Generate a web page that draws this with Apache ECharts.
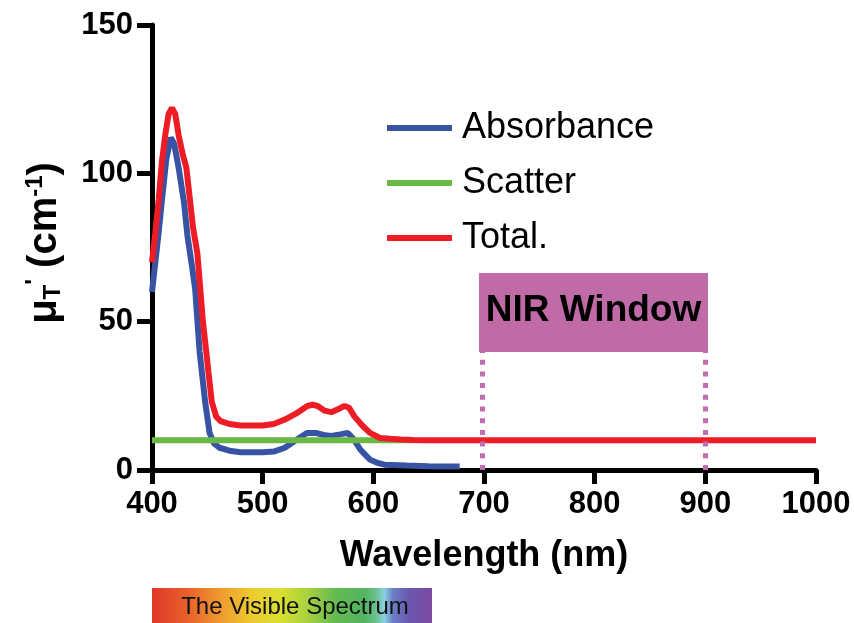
<!DOCTYPE html>
<html>
<head>
<meta charset="utf-8">
<script src="https://cdn.jsdelivr.net/npm/echarts@6/dist/echarts.min.js"></script>
<style>
html,body{margin:0;padding:0;background:#fff;}
#chart{width:854px;height:623px;}
</style>
</head>
<body>
<div id="chart"></div>
<script>
// ---- data ----
const seriesNames = ['Absorbance', 'Scatter', 'Total.'];
const xTicks = [400, 500, 600, 700, 800, 900, 1000];
const yTicks = [0, 50, 100, 150];

const wlAbsorbance = [400,403,406,409,413,417,420,424,429,432,436,439,443,448,452,456,461,470,480,490,500,510,520,530,540,548,555,562,570,577,583,588,593,597,603,610,630,650,678];
const absorbance   = [60,70,80,91,105,112,110,102,90,79,69,61,40,23,12.5,9,7.5,6.5,6,6,6,6.2,7.5,10,12.5,12.5,11.8,11.5,12,12.5,10,7,5,3.5,2.5,1.8,1.5,1.3,1.2];

const wlScatter = [400, 636];
const scatter   = [10, 10];

const wlTotal = [400,403,406,409,412,415,418,421,424,428,431,434,437,441,443,446,449,451,454,458,462,470,480,490,500,510,520,530,540,545,550,556,562,568,574,578,583,590,597,606,615,625,636,645,1000];
const total   = [70,80,91,104,113,120,122,120,113,106,102,92,82,73,64,50,40,33,23,18,16.5,15.5,15,15,15,15.5,17,19,21.5,22,21.5,20,19.5,20.5,21.6,21,18,15,12.5,10.8,10.5,10.3,10.1,10,10];

const nirWindowNm = [700, 900];       // dotted guide lines
const nirLabel = 'NIR Window';

const pairs = (xs, ys) => xs.map((x, i) => [x, ys[i]]);

const chart = echarts.init(document.getElementById('chart'), null, {renderer: 'canvas'});

const FONT = '"Liberation Sans", Arial, Helvetica, sans-serif';
const lineW = 6;

const option = {
  animation: false,
  backgroundColor: '#ffffff',
  textStyle: {fontFamily: FONT},
  grid: {left: 152, right: 38, top: 25, bottom: 153, containLabel: false},
  legend: {
    orient: 'vertical',
    left: 387, top: 110, padding: 0,
    itemWidth: 65, itemHeight: 6,
    itemGap: 19,
    icon: 'rect',
    textStyle: {fontSize: 36, fontFamily: FONT, color: '#000', lineHeight: 34, padding: [0, 0, 0, 5]},
    data: seriesNames
  },
  xAxis: {
    type: 'value', min: 400, max: 1000, interval: 100,
    name: 'Wavelength (nm)', nameLocation: 'middle', nameGap: 68,
    nameTextStyle: {fontSize: 36, fontWeight: 'bold', color: '#000', fontFamily: FONT},
    axisLine: {show: true, onZero: false, lineStyle: {color: '#000', width: 5}},
    axisTick: {show: true, length: 14, lineStyle: {color: '#000', width: 5}},
    axisLabel: {fontSize: 31, fontWeight: 'bold', color: '#000', margin: 19, fontFamily: FONT,
      formatter: v => xTicks.includes(v) ? String(v) : ''},
    splitLine: {show: false}
  },
  yAxis: {
    type: 'value', min: 0, max: 150, interval: 50,
    axisLine: {show: true, onZero: false, lineStyle: {color: '#000', width: 5}},
    axisTick: {show: true, length: 15, lineStyle: {color: '#000', width: 5}},
    axisLabel: {fontSize: 31, fontWeight: 'bold', color: '#000', margin: 19, fontFamily: FONT,
      formatter: v => yTicks.includes(v) ? String(v) : ''},
    splitLine: {show: false}
  },
  series: [
    {
      name: seriesNames[0], type: 'line', data: pairs(wlAbsorbance, absorbance),
      symbol: 'none', z: 2,
      lineStyle: {color: '#3953a4', width: lineW}, itemStyle: {color: '#3953a4'},
      markLine: {
        silent: true, symbol: 'none', label: {show: false},
        lineStyle: {color: '#c46cb0', width: 5, type: [5, 6.7]},
        data: [
          [{coord: [698.5, 0]}, {coord: [698.5, 40]}],
          [{coord: [nirWindowNm[1], 0]}, {coord: [nirWindowNm[1], 40]}]
        ]
      }
    },
    {
      name: seriesNames[1], type: 'line', data: pairs(wlScatter, scatter),
      symbol: 'none', z: 3,
      lineStyle: {color: '#6ab845', width: lineW}, itemStyle: {color: '#6ab845'},
      markArea: {
        silent: true,
        itemStyle: {color: '#c06aa8', opacity: 1},
        label: {show: true, position: 'inside', formatter: nirLabel,
          fontSize: 37, fontWeight: 'bold', color: '#000', fontFamily: FONT, offset: [0, -2]},
        data: [[{coord: [695.5, 66.4]}, {coord: [902.4, 39.8]}]]
      }
    },
    {
      name: seriesNames[2], type: 'line', data: pairs(wlTotal, total),
      symbol: 'none', z: 4,
      lineStyle: {color: '#ee1c25', width: lineW}, itemStyle: {color: '#ee1c25'}
    }
  ],
  graphic: [
    {
      type: 'text', x: 45, y: 243, rotation: Math.PI / 2,
      style: {
        text: '{m|μ}{sub|T}{sup|\'}{m| (cm}{sup|-1}{m|)}',
        align: 'center', verticalAlign: 'middle',
        rich: {
          m: {fontSize: 40, fontWeight: 'bold', fontFamily: FONT, fill: '#000', lineHeight: 48, verticalAlign: 'middle'},
          sub: {fontSize: 24, fontWeight: 'bold', fontFamily: FONT, fill: '#000', lineHeight: 48, verticalAlign: 'bottom', padding: [0,0,4,0]},
          sup: {fontSize: 24, fontWeight: 'bold', fontFamily: FONT, fill: '#000', lineHeight: 48, verticalAlign: 'top', padding: [2,0,0,0]}
        }
      }
    },
    {
      type: 'rect', x: 152, y: 588,
      shape: {width: 280, height: 36},
      style: {
        fill: new echarts.graphic.LinearGradient(0, 0, 1, 0, [
          {offset: 0, color: '#e0382a'},
          {offset: 0.13, color: '#e8622a'},
          {offset: 0.25, color: '#f09c30'},
          {offset: 0.36, color: '#eccc30'},
          {offset: 0.46, color: '#d8e032'},
          {offset: 0.56, color: '#a6d040'},
          {offset: 0.66, color: '#62ba52'},
          {offset: 0.76, color: '#52b462'},
          {offset: 0.8, color: '#6cc090'},
          {offset: 0.83, color: '#8ad0e2'},
          {offset: 0.86, color: '#6c7ec6'},
          {offset: 0.92, color: '#6a56ae'},
          {offset: 1, color: '#7c4aa0'}
        ])
      }
    },
    {
      type: 'text', x: 295, y: 607,
      style: {text: 'The Visible Spectrum', fontSize: 24, fontFamily: FONT, fill: '#111',
        align: 'center', verticalAlign: 'middle'}
    }
  ]
};
chart.setOption(option);
</script>
</body>
</html>
